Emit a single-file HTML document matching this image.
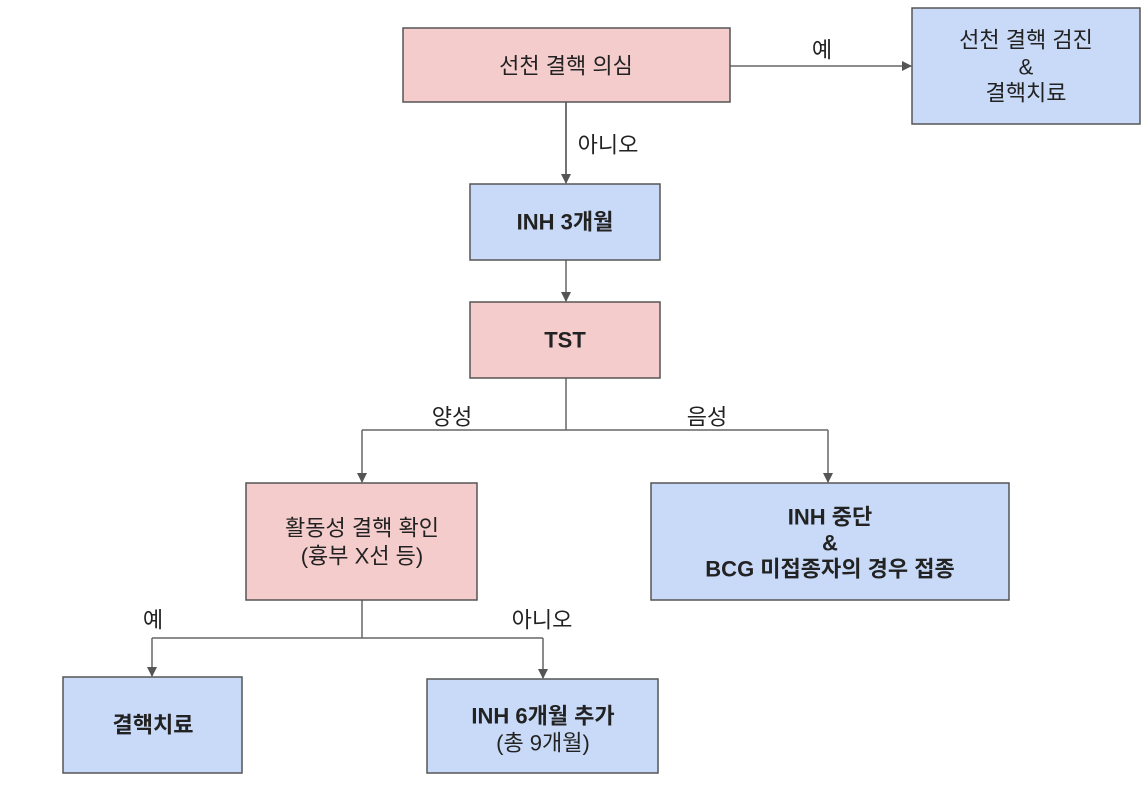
<!DOCTYPE html>
<html><head><meta charset="utf-8"><style>
html,body{margin:0;padding:0;background:#fff;}
svg text{font-family:"Liberation Sans","Noto Sans CJK KR","NanumGothic",sans-serif;font-size:22px;fill:#222;dominant-baseline:central;}
.b{font-weight:bold;}
</style></head><body>
<svg width="1148" height="782" viewBox="0 0 1148 782" xmlns="http://www.w3.org/2000/svg">
<defs>
<marker id="a" markerWidth="10" markerHeight="10" refX="9" refY="5" orient="auto" markerUnits="userSpaceOnUse">
<path d="M0,0 L10,5 L0,10 z" fill="#555"/></marker>
</defs>
<g stroke="#666" stroke-width="1.5" fill="none">
<path d="M730,66 H911" marker-end="url(#a)"/>
<path d="M566,102 V183" stroke="#444" marker-end="url(#a)"/>
<path d="M566,260 V301" marker-end="url(#a)"/>
<path d="M566,378 V430 M362,430 H828"/>
<path d="M362,430 V482" marker-end="url(#a)"/>
<path d="M828,430 V482" marker-end="url(#a)"/>
<path d="M362,600 V638 M152,638 H543"/>
<path d="M152,638 V676" marker-end="url(#a)"/>
<path d="M543,638 V678" marker-end="url(#a)"/>
</g>
<g stroke="#555" stroke-width="1.5">
<rect x="403" y="28" width="327" height="74" fill="#f4cccc"/>
<rect x="912" y="8" width="228" height="116" fill="#c9daf8"/>
<rect x="470" y="184" width="190" height="76" fill="#c9daf8"/>
<rect x="470" y="302" width="190" height="76" fill="#f4cccc"/>
<rect x="246" y="483" width="231" height="117" fill="#f4cccc"/>
<rect x="651" y="483" width="358" height="117" fill="#c9daf8"/>
<rect x="63" y="677" width="179" height="96" fill="#c9daf8"/>
<rect x="427" y="679" width="231" height="94" fill="#c9daf8"/>
</g>
<g text-anchor="middle">
<text x="566" y="66">선천 결핵 의심</text>
<text x="1026" y="40">선천 결핵 검진</text>
<text x="1026" y="67">&amp;</text>
<text x="1026" y="93">결핵치료</text>
<text class="b" x="565" y="222">INH 3개월</text>
<text class="b" x="565" y="340">TST</text>
<text x="362" y="528">활동성 결핵 확인</text>
<text x="362" y="556">(흉부 X선 등)</text>
<text class="b" x="830" y="517">INH 중단</text>
<text class="b" x="830" y="543">&amp;</text>
<text class="b" x="830" y="569">BCG 미접종자의 경우 접종</text>
<text class="b" x="153" y="725">결핵치료</text>
<text class="b" x="543" y="716">INH 6개월 추가</text>
<text x="543" y="743">(총 9개월)</text>
<text x="822" y="50">예</text>
<text x="608" y="145">아니오</text>
<text x="452" y="417">양성</text>
<text x="707" y="417">음성</text>
<text x="153" y="620">예</text>
<text x="542" y="620">아니오</text>
</g>
</svg>
</body></html>
